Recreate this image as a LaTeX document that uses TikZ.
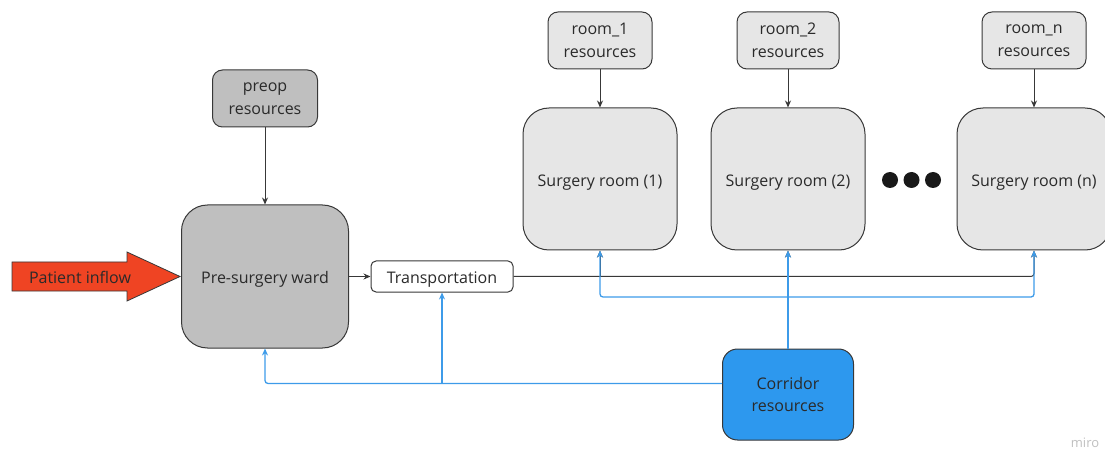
\documentclass[tikz,border=0pt]{standalone}
\usepackage{fontspec}
\setmainfont{Open Sans}
\usetikzlibrary{arrows.meta}
\definecolor{wardgray}{HTML}{BFBFBF}
\definecolor{roomgray}{HTML}{E6E6E6}
\definecolor{edgegray}{HTML}{383838}
\definecolor{linkblue}{HTML}{3D9BE9}
\definecolor{corrblue}{HTML}{2D98EE}
\definecolor{inflowred}{HTML}{EF4423}
\definecolor{txt}{HTML}{2A2A2A}
\begin{document}
\begin{tikzpicture}[x=1pt,y=-1pt,
  box/.style={draw=edgegray, line width=1pt, align=center, text=txt,
    font=\fontsize{16}{22.5}\selectfont, inner sep=0pt,
    execute at begin node={\rule{0pt}{18pt}}},
  bigbox/.style={box, rounded corners=26pt, minimum width=154pt, minimum height=142pt},
  resbox/.style={box, rounded corners=10pt, minimum width=104pt, minimum height=57pt},
  darrow/.style={draw=edgegray, line width=1pt, -{Stealth[length=7pt,width=6pt]}},
  barrow/.style={draw=linkblue, line width=1.3pt, rounded corners=3pt, -{Stealth[length=7pt,width=6pt]}}]
\useasboundingbox (0,0) rectangle (1105,454);

% inflow arrow
\draw[draw=edgegray, line width=0.8pt, fill=inflowred]
  (12,262) -- (127,262) -- (127,252) -- (180,276.5) -- (127,301) -- (127,291) -- (12,291) -- cycle;
\node[text=txt, font=\fontsize{16}{18}\selectfont] (inflow) at (80,277) {Patient inflow};

% nodes
\node[box, fill=wardgray, rounded corners=26pt, minimum width=167pt, minimum height=143pt] (ward) at (265,276.5) {Pre-surgery ward};
\node[resbox, fill=wardgray, minimum width=105pt] (preop) at (265,98.5) {preop\\resources};
\node[box, fill=white, rounded corners=5pt, minimum width=142pt, minimum height=31pt] (trans) at (442,276.5) {Transportation};

\node[bigbox, fill=roomgray] (room1) at (600,179) {Surgery room (1)};
\node[bigbox, fill=roomgray] (room2) at (788,179) {Surgery room (2)};
\node[bigbox, fill=roomgray] (roomn) at (1034,179) {Surgery room (n)};

\node[resbox, fill=roomgray] (res1) at (600,40.5) {room\_1\\resources};
\node[resbox, fill=roomgray, minimum width=102pt] (res2) at (788,40.5) {room\_2\\resources};
\node[resbox, fill=roomgray] (resn) at (1034,40.5) {room\_n\\resources};

\node[box, fill=corrblue, rounded corners=15pt, minimum width=131pt, minimum height=91pt] (corr) at (788,394.5) {Corridor\\resources};

% dots
\fill[black!90] (890,180) circle (8pt) (911.5,180) circle (8pt) (933,180) circle (8pt);

\node[text=black!25, font=\fontsize{13}{15}\selectfont] (miro) at (1085,443) {miro};

% black connectors
\draw[darrow] (preop) -- (ward);
\draw[darrow] (ward) -- (trans);
\draw[darrow] (res1) -- (room1);
\draw[darrow] (res2) -- (room2);
\draw[darrow] (resn) -- (roomn);
\draw[darrow, rounded corners=3pt] (trans.east) -| (roomn.south);
\draw[darrow] (trans.east -| room1.south) -- (room1.south);
\draw[darrow] (trans.east -| room2.south) -- (room2.south);

% blue connectors
\coordinate (bj) at (788,297);
\coordinate (cw) at ([yshift=11pt]corr.west);
\draw[barrow] (corr.north) -- (room2.south);
\draw[barrow] (bj) -| (room1.south);
\draw[barrow] (bj) -| (roomn.south);
\draw[barrow] (cw) -| (ward.south);
\draw[barrow] (cw -| trans.south) -- (trans.south);
\end{tikzpicture}
\end{document}
